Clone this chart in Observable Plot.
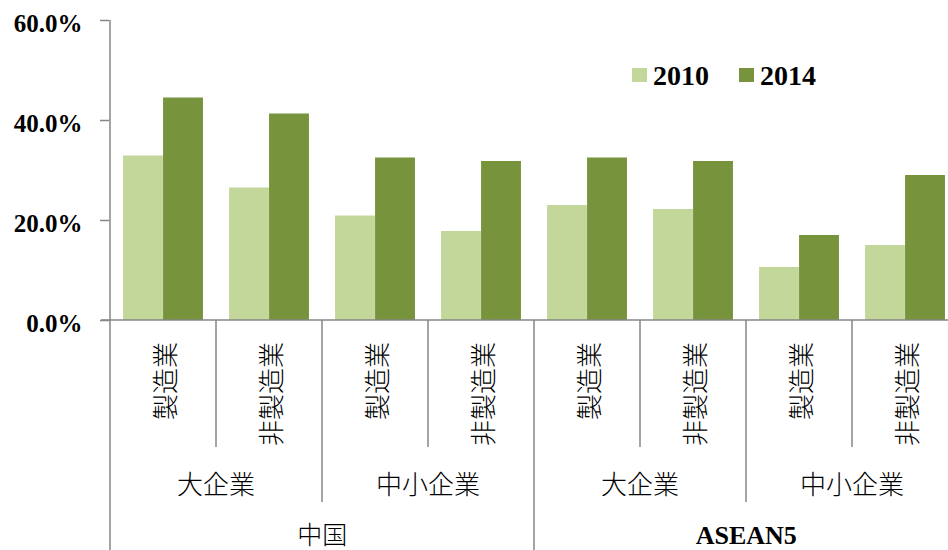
<!DOCTYPE html>
<html><head><meta charset="utf-8">
<script src="https://cdn.jsdelivr.net/npm/d3@7"></script>
<script src="https://cdn.jsdelivr.net/npm/@observablehq/plot@0.6"></script>
<style>
html,body{margin:0;padding:0;background:#fff;overflow:hidden;}
#chart svg{display:block;overflow:visible;max-width:none !important;}
</style></head><body><div id="chart"></div>
<script>
const countries = ["中国", "ASEAN5"];
const sizes = ["大企業", "中小企業"];
const sectors = ["製造業", "非製造業"];
const years = ["2010", "2014"];
const values2010 = [32.9, 26.5, 20.9, 17.8, 23.0, 22.2, 10.6, 15.0];
const values2014 = [44.5, 41.3, 32.5, 31.8, 32.5, 31.8, 17.0, 29.0];
const yTicks = [0, 20, 40, 60];
const colors = ["#C4D79B", "#77933C"];

const cats = [];
countries.forEach(c => sizes.forEach(s => sectors.forEach(t =>
  cats.push({country: c, size: s, sector: t, key: `${c}|${s}|${t}`}))));
const data = [];
cats.forEach((c, i) => {
  data.push({key: c.key, year: years[0], value: values2010[i]});
  data.push({key: c.key, year: years[1], value: values2014[i]});
});

const W = 958, H = 550, ML = 109, MR = 0, MT = 20, MB = 230;
const step = (W - ML - MR) / cats.length;
const gap = step * 0.123, half = step / 2;
const axisColor = "#868686";
const serif = "'Liberation Serif', 'DejaVu Serif', serif";
const cjk = "'Noto Sans CJK JP', 'Noto Sans', sans-serif";

const chart = Plot.plot({
  width: W, height: H,
  marginLeft: ML, marginRight: MR, marginTop: MT, marginBottom: MB,
  style: {background: "#fff", color: "#000"},
  x: {domain: cats.map(d => d.key), padding: 0, axis: null},
  y: {domain: [0, 60], axis: null},
  color: {domain: years, range: colors},
  marks: [
    Plot.barY(data, {filter: d => d.year === years[0], x: "key", y: "value", fill: "year", insetLeft: gap, insetRight: half}),
    Plot.barY(data, {filter: d => d.year === years[1], x: "key", y: "value", fill: "year", insetLeft: half, insetRight: gap}),
    Plot.axisY({ticks: yTicks, tickFormat: d => d.toFixed(1) + "%", tickSize: 9, tickPadding: 18, label: null,
      stroke: axisColor, strokeWidth: 1.5, fontSize: 25, fontWeight: "bold", fontFamily: serif, fill: "#000"})
  ]
});
document.getElementById("chart").appendChild(chart);

const svg = d3.select(chart);
svg.selectAll("g[aria-label='y-axis tick label'] text").attr("dy", "3.5");
const xs = chart.scale("x"), ys = chart.scale("y"), cs = chart.scale("color");
const y0 = ys.apply(0), yTop = ys.apply(60);
const xb = k => xs.apply(k);

const g = svg.append("g");
// axis lines
g.append("line").attr("x1", xb(cats[0].key)).attr("x2", xb(cats[0].key)).attr("y1", yTop).attr("y2", H)
  .attr("stroke", axisColor).attr("stroke-width", 1.5);
g.append("line").attr("x1", xb(cats[0].key) - 9).attr("x2", W).attr("y1", y0).attr("y2", y0)
  .attr("stroke", axisColor).attr("stroke-width", 1.5);
cats.forEach((c, i) => {
  if (i === 0) return;
  const len = i % 4 === 0 ? H - y0 : i % 2 === 0 ? 182 : 127;
  g.append("line").attr("x1", xb(c.key)).attr("x2", xb(c.key)).attr("y1", y0).attr("y2", y0 + len)
    .attr("stroke", axisColor).attr("stroke-width", 1.5);
});
// sector labels
cats.forEach(c => {
  const cx = xb(c.key) + step / 2, cy = y0 + 22;
  g.append("text").text(c.sector)
    .attr("transform", `translate(${cx},${cy}) rotate(-90)`)
    .attr("text-anchor", "end").attr("dominant-baseline", "central")
    .attr("font-family", cjk).attr("font-size", 26).attr("font-weight", 300).attr("fill", "#000");
});
// size labels
for (let k = 0; k < cats.length / 2; k++) {
  const c = cats[2 * k];
  g.append("text").text(c.size)
    .attr("x", xb(c.key) + step).attr("y", y0 + 162)
    .attr("text-anchor", "middle").attr("dominant-baseline", "central")
    .attr("font-family", cjk).attr("font-size", 26).attr("font-weight", 300).attr("fill", "#000");
}
// country labels
for (let k = 0; k < cats.length / 4; k++) {
  const c = cats[4 * k];
  const latin = /^[A-Za-z0-9]+$/.test(c.country);
  g.append("text").text(c.country)
    .attr("x", xb(c.key) + 2 * step).attr("y", y0 + (latin ? 215 : 213))
    .attr("text-anchor", "middle").attr("dominant-baseline", "central")
    .attr("font-family", latin ? serif : cjk).attr("font-size", latin ? 26 : 25)
    .attr("font-weight", latin ? "bold" : 300).attr("fill", "#000");
}
// legend
const lg = svg.append("g");
const legX = [632, 739];
years.forEach((yr, i) => {
  lg.append("rect").attr("x", legX[i]).attr("y", 68).attr("width", 15).attr("height", 14).attr("fill", cs.apply(yr));
  lg.append("text").text(yr).attr("x", legX[i] + 21).attr("y", 85).attr("text-anchor", "start")
    .attr("font-family", serif).attr("font-size", 28).attr("font-weight", "bold").attr("fill", "#000");
});
</script></body></html>
